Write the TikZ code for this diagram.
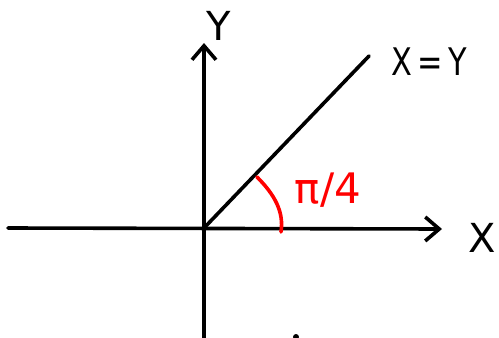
\documentclass[tikz,border=0pt]{standalone}
\usepackage{fontspec}
\usepackage{graphicx}
\setmainfont{DejaVu Sans}
\usetikzlibrary{arrows.meta}
\begin{document}
\begin{tikzpicture}[x=1pt,y=-1pt,
  axis/.style={line width=3.6pt,line cap=round,-{Straight Barb[length=14pt,width=24pt,line width=3.6pt]}},
  pen/.style={line width=3.6pt,line cap=round},
  lbl/.style={inner sep=0pt,font=\fontsize{40}{40}\selectfont},
  redpen/.style={line width=3.6pt,line cap=round,draw=red}]
\useasboundingbox (0,0) rectangle (499,338);
\fill[white] (0,0) rectangle (499,338);
\coordinate (o) at (204,228);
\coordinate (xl) at (8,228);
\coordinate (xr) at (442,229);
\coordinate (yb) at (204,340);
\coordinate (yt) at (204,43);
\coordinate (d) at (369,56);
\draw[axis] (xl) -- (xr);
\draw[axis] (yb) -- (yt);
\draw[pen] (o) -- (d);
\draw[redpen] (257,177) .. controls (275,195) and (284,212) .. (281,232);
\node[lbl] (ylab) at (219,26) {Y};
\node[lbl] (xlab) at (482,238) {X};
\node[lbl,anchor=west,font=\fontsize{38}{38}\selectfont] (eq) at (391,62) {\scalebox{0.8}[1]{X\kern7pt=\kern7pt Y}};
\node[lbl,text=red,font=\fontsize{42}{42}\selectfont] (pi) at (328,190) {π/4};
\fill (296,337) circle (3pt);
\end{tikzpicture}
\end{document}
